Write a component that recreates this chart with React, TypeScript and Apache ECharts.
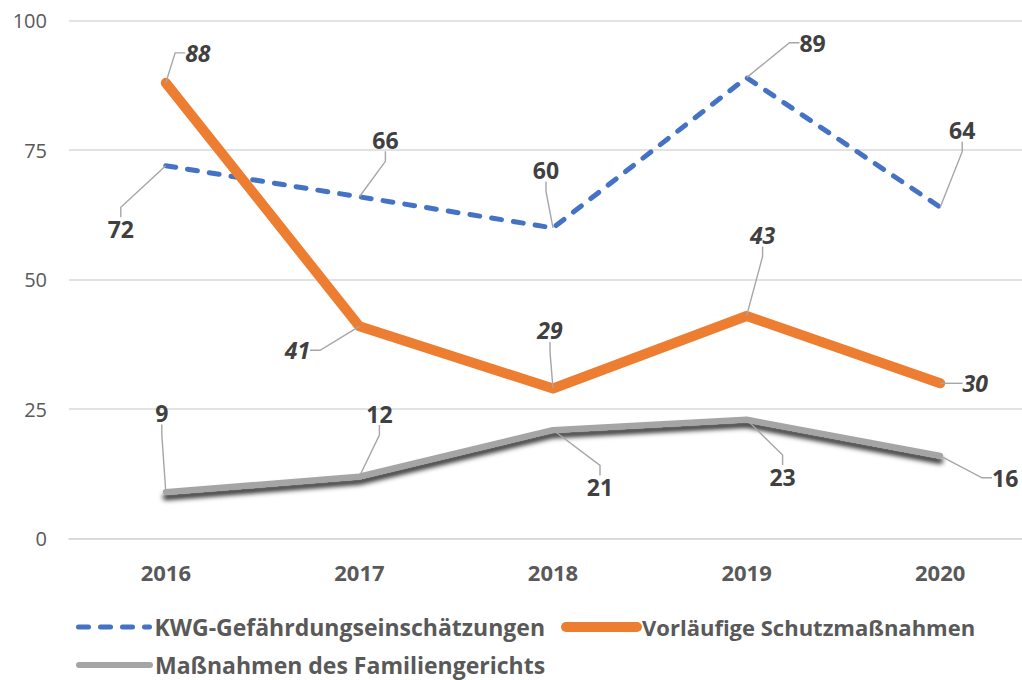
import React, { useEffect, useRef } from "react";
import * as echarts from "echarts";

const years = ["2016", "2017", "2018", "2019", "2020"];
const kwgName = "KWG-Gefährdungseinschätzungen";
const schutzName = "Vorläufige Schutzmaßnahmen";
const familieName = "Maßnahmen des Familiengerichts";
const kwgValues = [72, 66, 60, 89, 64];
const schutzValues = [88, 41, 29, 43, 30];
const familieValues = [9, 12, 21, 23, 16];
const yTicks = { min: 0, max: 100, interval: 25 };

// label offsets (label centre relative to the data point), styling only
const kwgOffsets = [[-45, 63], [26, -57], [-7, -58], [66, -35], [22, -77]];
const schutzOffsets = [[32, -30], [-62, 24], [-3, -58], [16, -81], [35, 0]];
const familieOffsets = [[-4, -79], [20, -63], [47, 57], [36, 57], [65, 22]];

const FONT = "'Open Sans', 'Noto Sans', sans-serif";

function makeSeries(name: string, data: number[], offsets: number[][], lineStyle: any, color: string, italic: boolean) {
  return {
    name,
    type: "line",
    data,
    symbol: "circle",
    symbolSize: 0.1,
    showSymbol: true,
    itemStyle: { color },
    lineStyle,
    z: 2,
    label: {
      show: true,
      position: "inside",
      color: "#404040",
      fontFamily: FONT,
      fontWeight: "bold",
      fontStyle: italic ? "italic" : "normal",
      fontSize: 23,
    },
    labelLine: {
      show: true,
      length2: 10,
      lineStyle: { color: "#A6A6A6", width: 1.4 },
    },
    labelLayout: (p: any) => ({
      dx: offsets[p.dataIndex][0],
      dy: offsets[p.dataIndex][1],
    }),
    emphasis: { disabled: true },
  };
}

export default function App() {
  const ref = useRef<HTMLDivElement>(null);
  useEffect(() => {
    if (!ref.current) return;
    const chart = echarts.init(ref.current, null, { renderer: "svg" });
    const legendText = {
      fontFamily: FONT,
      fontWeight: "bold",
      fontSize: 23,
      lineHeight: 24,
      color: "#595959",
    };
    const legendCommon = {
      left: 76,
      itemWidth: 71,
      itemHeight: 12,
      padding: 0,
      textStyle: legendText,
      selectedMode: false,
      lineStyle: { width: "inherit" },
      itemStyle: { opacity: 0 },
    };
    chart.setOption({
      animation: false,
      backgroundColor: "#ffffff",
      grid: {
        left: 69,
        width: 968,
        top: 20.7,
        bottom: 141.3,
        containLabel: false,
        outerBoundsMode: "none",
      },
      legend: [
        {
          ...legendCommon,
          data: [
            { name: kwgName },
            { name: schutzName, textStyle: { fontSize: 22 } },
          ],
          top: 615,
          itemGap: 16,
        },
        { ...legendCommon, data: [familieName], top: 653 },
      ],
      xAxis: {
        type: "category",
        data: years,
        boundaryGap: true,
        axisLine: { show: true, lineStyle: { color: "#D9D9D9", width: 1.5 } },
        axisTick: { show: false },
        axisLabel: {
          color: "#595959",
          fontFamily: FONT,
          fontWeight: "bold",
          fontSize: 22,
          margin: 22,
        },
      },
      yAxis: {
        type: "value",
        min: yTicks.min,
        max: yTicks.max,
        interval: yTicks.interval,
        axisLine: { show: false },
        axisTick: { show: false },
        axisLabel: {
          color: "#595959",
          fontFamily: FONT,
          fontSize: 20,
          margin: 22,
        },
        splitLine: { lineStyle: { color: "#D9D9D9", width: 1.5 } },
      },
      series: [
        makeSeries(kwgName, kwgValues, kwgOffsets, {
          color: "#4472C4",
          width: 5,
          type: [10, 12],
          cap: "round",
          join: "round",
        }, "#4472C4", false),
        makeSeries(schutzName, schutzValues, schutzOffsets, {
          color: "#ED7D31",
          width: 10,
          cap: "round",
          join: "round",
        }, "#ED7D31", true),
        makeSeries(familieName, familieValues, familieOffsets, {
          color: "#A5A5A5",
          width: 6,
          cap: "round",
          join: "round",
          shadowColor: "rgba(0,0,0,0.85)",
          shadowBlur: 5,
          shadowOffsetY: 5,
        }, "#A5A5A5", false),
      ],
    });
    return () => chart.dispose();
  }, []);
  return (
    <div
      ref={ref}
      style={{ position: "absolute", left: 0, top: 0, width: 1022, height: 680 }}
    />
  );
}
